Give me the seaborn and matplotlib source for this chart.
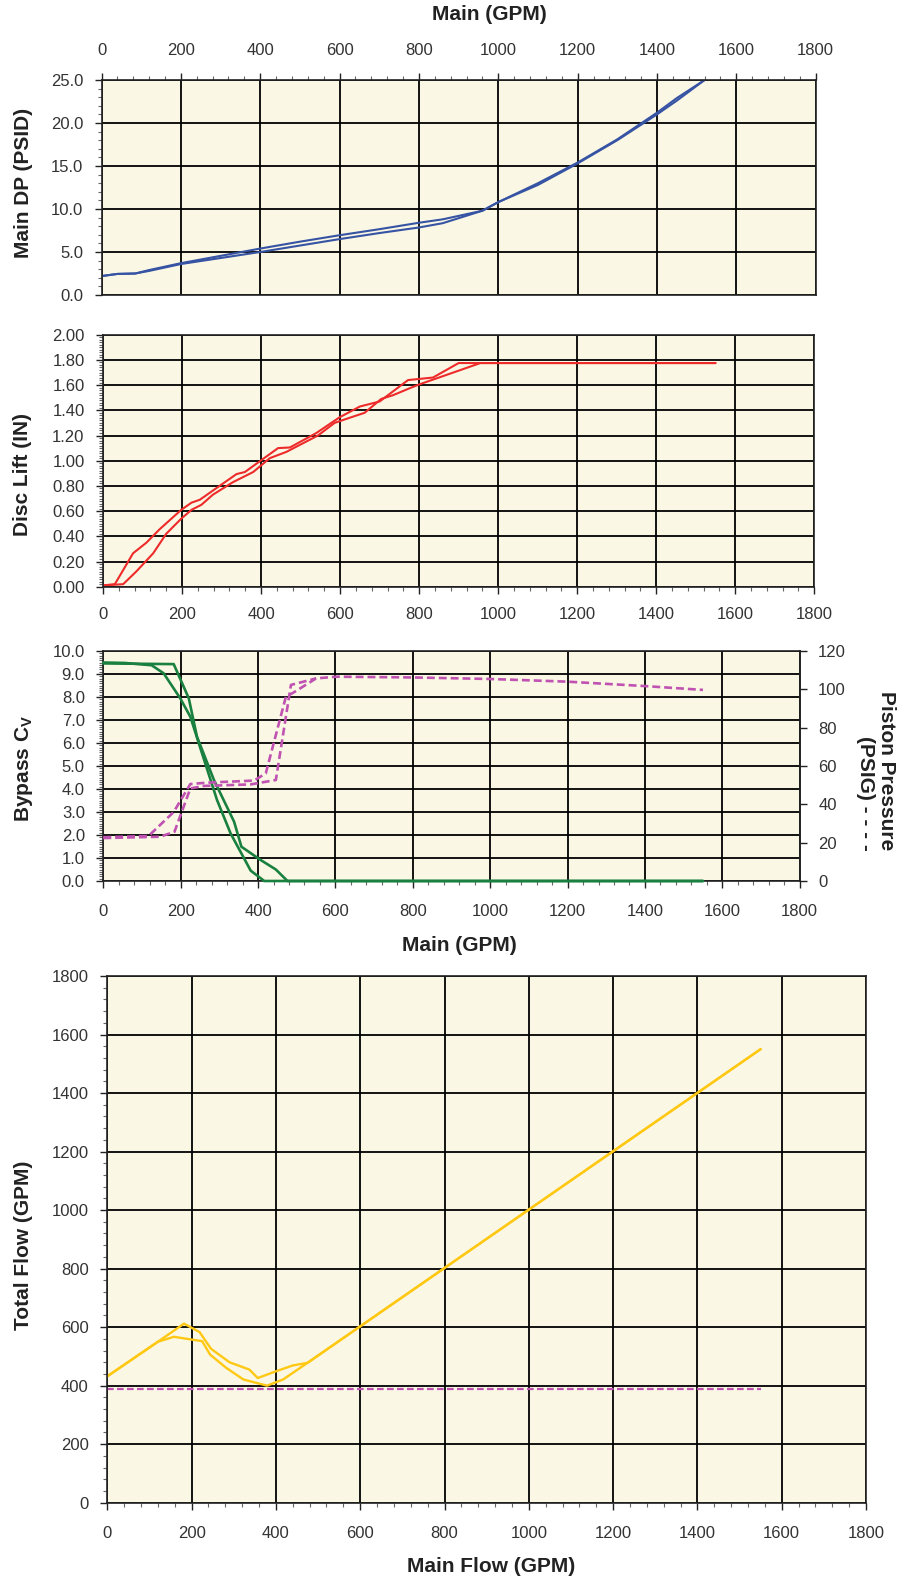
import numpy as np
import pandas as pd
import matplotlib
matplotlib.use("Agg")
import matplotlib.pyplot as plt
import seaborn as sns
from matplotlib.ticker import MultipleLocator, FormatStrFormatter

# ---------------- data ----------------
# Panel 1: Main DP (PSID) vs main flow (two branches of hysteresis)
dp_flow = [0, 40, 85, 120, 200, 300, 400, 500, 600, 700, 800, 860, 960, 1000, 1100, 1200, 1300, 1400, 1450, 1520]
dp_up = [2.2, 2.45, 2.5, 2.9, 3.7, 4.55, 5.4, 6.2, 6.95, 7.65, 8.4, 8.8, 9.8, 10.8, 13.0, 15.4, 18.1, 21.2, 22.9, 25.0]
dp_down = [2.2, 2.45, 2.5, 2.8, 3.6, 4.3, 5.0, 5.75, 6.5, 7.2, 7.85, 8.35, 9.8, 10.8, 12.8, 15.3, 18.0, 21.0, 22.6, 25.0]

# Panel 2: Disc lift (IN)
lift_flow_a = [0, 30, 76, 110, 143, 198, 224, 245, 295, 338, 359, 401, 443, 473, 540, 599, 650, 700, 772, 835, 900, 1550]
lift_a = [0.01, 0.02, 0.265, 0.35, 0.455, 0.61, 0.667, 0.69, 0.80, 0.894, 0.91, 1.005, 1.10, 1.105, 1.22, 1.345, 1.43, 1.47, 1.64, 1.66, 1.775, 1.775]
lift_flow_b = [0, 51, 84, 127, 160, 198, 224, 249, 278, 329, 380, 422, 464, 544, 586, 633, 662, 704, 734, 776, 800, 955, 1550]
lift_b = [0.01, 0.02, 0.12, 0.265, 0.42, 0.54, 0.61, 0.65, 0.73, 0.83, 0.91, 1.02, 1.07, 1.20, 1.30, 1.35, 1.38, 1.49, 1.52, 1.575, 1.605, 1.775, 1.775]

# Panel 3: Bypass Cv (green) and piston pressure (purple dashed)
cv_flow_a = [0, 56, 125, 156, 199, 225, 251, 294, 329, 381, 416, 1550]
cv_a = [9.5, 9.48, 9.38, 9.03, 7.94, 7.14, 5.77, 3.52, 2.07, 0.45, 0.0, 0.0]
cv_flow_b = [0, 182, 221, 242, 286, 338, 357, 407, 446, 476, 1550]
cv_b = [9.46, 9.43, 7.94, 6.28, 4.39, 2.58, 1.49, 0.91, 0.5, 0.0, 0.0]

pp_flow_a = [0, 117, 182, 225, 268, 390, 420, 472, 489, 550, 602, 800, 1000, 1200, 1400, 1550]
pp_a = [22.8, 23.5, 36.0, 50.6, 51.3, 52.4, 56.2, 96.2, 98.0, 105.7, 106.6, 106.2, 105.4, 104.0, 101.7, 99.7]
pp_flow_b = [0, 147, 184, 225, 260, 381, 446, 485, 550]
pp_b = [22.4, 23.1, 25.7, 48.3, 49.6, 50.4, 52.7, 102.3, 105.7]

# Panel 4: Total flow vs main flow
tf_flow_a = [0, 120, 182, 219, 246, 290, 337, 357, 400, 440, 475, 1550]
tf_a = [432, 550, 612, 583, 526, 480, 455, 426, 449, 469, 478, 1550]
tf_flow_b = [0, 120, 158, 225, 244, 282, 323, 379, 417, 475, 1550]
tf_b = [432, 550, 567, 552, 506, 461, 421, 400, 421, 478, 1550]
min_flow_x = [0, 1550]
min_flow_y = [390, 390]

# ---------------- style ----------------
sns.set_style("ticks")
plt.rcParams["font.family"] = ["Liberation Sans", "DejaVu Sans"]
plt.rcParams["mathtext.fontset"] = "custom"
plt.rcParams["mathtext.rm"] = "Liberation Sans"
plt.rcParams["mathtext.bf"] = "Liberation Sans:bold"

BG = "#FAF8E4"
BLUE = "#3653A4"
RED = "#EE2B2B"
GREEN = "#198040"
PURPLE = "#C052B2"
YELLOW = "#FFC814"
TICKC = "#333333"
LABC = "#222222"
DASH = (0, (3, 1.5))

W, H = 911, 1582
fig = plt.figure(figsize=(W / 100, H / 100), dpi=100)


def add_ax(l, t, r, b):
    return fig.add_axes([l / W, 1 - b / H, (r - l) / W, (b - t) / H])


def style(ax, ymax, ymajor, yminor, fmt, xpad):
    ax.set_facecolor(BG)
    ax.set_xlim(0, 1800)
    ax.set_ylim(0, ymax)
    ax.xaxis.set_major_locator(MultipleLocator(200))
    ax.xaxis.set_minor_locator(MultipleLocator(40))
    ax.yaxis.set_major_locator(MultipleLocator(ymajor))
    ax.yaxis.set_minor_locator(MultipleLocator(yminor))
    ax.yaxis.set_major_formatter(FormatStrFormatter(fmt))
    ax.grid(True, which="major", color="black", lw=1.3)
    ax.set_axisbelow(True)
    ax.tick_params(which="major", direction="out", length=5, width=1, color="#222", labelcolor=TICKC, labelsize=12)
    ax.tick_params(which="minor", direction="out", length=3, width=0.8, color="#666")
    ax.tick_params(axis="x", pad=xpad)
    ax.tick_params(axis="y", pad=8.3)
    for s in ax.spines.values():
        s.set_color("#222")
        s.set_linewidth(1.2)
    ax.set_xlabel("")
    ax.set_ylabel("")


def ylab(ax, text, x, y, **kw):
    ax.set_ylabel(text, fontsize=15, fontweight="bold", color=LABC, **kw)
    ax.yaxis.set_label_coords(x / W, 1 - y / H, transform=fig.transFigure)
    ax.yaxis.label.set_verticalalignment("center")
    ax.yaxis.label.set_horizontalalignment("center")


def xlab(ax, text, x, y):
    ax.set_xlabel(text, fontsize=15, fontweight="bold", color=LABC)
    ax.xaxis.set_label_coords(x / W, 1 - y / H, transform=fig.transFigure)
    ax.xaxis.label.set_verticalalignment("center")
    ax.xaxis.label.set_horizontalalignment("center")


def line(ax, x, y, color, lw, **kw):
    df = pd.DataFrame({"x": x, "y": y})
    sns.lineplot(data=df, x="x", y="y", ax=ax, color=color, lw=lw,
                 sort=False, estimator=None, legend=False, **kw)


# ---- Panel 1 ----
ax1 = add_ax(101.5, 80, 815.7, 295)
line(ax1, dp_flow, dp_up, BLUE, 1.5)
line(ax1, dp_flow, dp_down, BLUE, 1.5)
style(ax1, 25, 5, 1, "%.1f", 11)
ax1.xaxis.tick_top()
ax1.xaxis.set_label_position("top")
ax1.tick_params(axis="x", which="both", top=True, bottom=False)
xlab(ax1, "Main (GPM)", 489, 15)
ylab(ax1, "Main DP (PSID)", 24, 183)

# ---- Panel 2 ----
ax2 = add_ax(103, 334.7, 814.3, 586.7)
line(ax2, lift_flow_a, lift_a, RED, 1.5)
line(ax2, lift_flow_b, lift_b, RED, 1.5)
style(ax2, 2.0, 0.2, 0.02, "%.2f", 9.4)
ylab(ax2, "Disc Lift (IN)", 23, 474)

# ---- Panel 3 ----
ax3 = add_ax(103.3, 651, 799.7, 881)
line(ax3, cv_flow_a, cv_a, GREEN, 1.9, clip_on=False, zorder=3)
line(ax3, cv_flow_b, cv_b, GREEN, 1.9, clip_on=False, zorder=3)
style(ax3, 10, 1, 0.1, "%.1f", 11.5)
ylab(ax3, r"Bypass C$_{\mathbf{V}}$", 24, 768)
xlab(ax3, "Main (GPM)", 459, 945)

ax3r = ax3.twinx()
line(ax3r, pp_flow_a, pp_a, PURPLE, 1.9, linestyle=DASH)
line(ax3r, pp_flow_b, pp_b, PURPLE, 1.9, linestyle=DASH)
ax3r.set_xlim(0, 1800)
ax3r.set_ylim(0, 120)
ax3r.yaxis.set_major_locator(MultipleLocator(20))
ax3r.tick_params(axis="y", which="major", direction="out", length=5, width=1, color="#222",
                 labelcolor=TICKC, labelsize=12, pad=8.3)
ax3r.grid(False)
for k, s in ax3r.spines.items():
    s.set_color("#222")
    s.set_linewidth(1.2)
    if k != "right":
        s.set_visible(False)
ax3r.set_xlabel("")
ax3r.set_ylabel("Piston Pressure\n(PSIG) - - - -", rotation=270, fontsize=15, fontweight="bold",
                color=LABC, multialignment="right", linespacing=1.1)
ax3r.yaxis.set_label_coords(876 / W, 1 - 771 / H, transform=fig.transFigure)
ax3r.yaxis.label.set_verticalalignment("center")
ax3r.yaxis.label.set_horizontalalignment("center")

# ---- Panel 4 ----
ax4 = add_ax(107.3, 976, 866, 1502.7)
line(ax4, min_flow_x, min_flow_y, PURPLE, 1.6, linestyle=DASH)
line(ax4, tf_flow_a, tf_a, YELLOW, 1.7)
line(ax4, tf_flow_b, tf_b, YELLOW, 1.7)
style(ax4, 1800, 200, 40, "%d", 11.5)
ylab(ax4, "Total Flow (GPM)", 24, 1245)
xlab(ax4, "Main Flow (GPM)", 491, 1567)

fig.savefig("out.png", dpi=100, facecolor="white")
